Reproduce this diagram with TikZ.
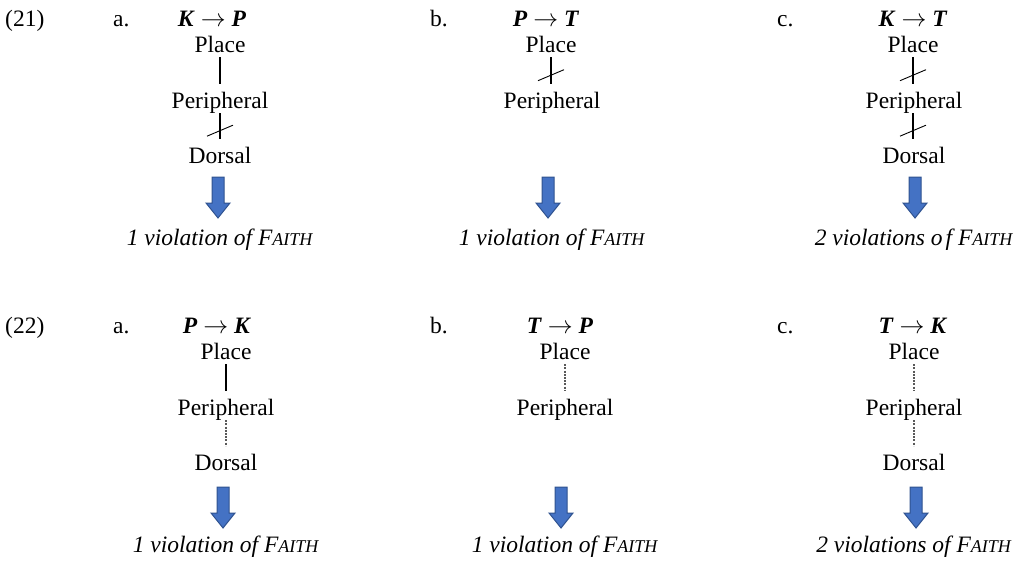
\documentclass[tikz,border=0pt]{standalone}
\usepackage{fontspec}
\setmainfont{Liberation Serif}
\usetikzlibrary{calc}
\definecolor{arrfill}{RGB}{68,114,196}
\definecolor{arrline}{RGB}{47,82,143}
\newcommand\faithsc{F{\fontsize{18}{18}\selectfont AITH}}
\newcommand\bi[1]{\textbf{\textit{#1}}}
\tikzset{
  txt/.style={font=\fontsize{23.5}{26}\selectfont, inner sep=0pt, anchor=base},
  lbl/.style={txt, anchor=base west},
  tree/.style={txt, text height=16pt, text depth=5pt},
  lnk/.style={line width=1.3pt, shorten >=8pt},
  dotlnk/.style={line width=1.1pt, shorten >=8pt, dash pattern=on 2pt off 1.2pt, black!65},
  slashmark/.style={line width=0.9pt},
  blk/.style={fill=arrfill, draw=arrline, line width=1pt, line join=miter},
  downarr/.pic={\path[blk] (-6,0) -- (6,0) -- (6,26) -- (12,26) -- (0,41) -- (-12,26) -- (-6,26) -- cycle;}
}
\begin{document}
\begin{tikzpicture}[x=1pt,y=-1pt]
\useasboundingbox (0,0) rectangle (1022,560);
% ---------------- Row (21) ----------------
\node[lbl] (n21) at (5,26) {(21)};
\node[lbl] (la1) at (113,26) {a.};
\node[lbl] (lb1) at (430,26) {b.};
\node[lbl] (lc1) at (777,26) {c.};
% a
\node[txt] (ha1) at (212,26) {\bi{K} $\rightarrow$ \bi{P}};
\node[tree] (pla1) at (220,52) {Place};
\node[tree] (pea1) at (220,108) {Peripheral};
\node[tree] (doa1) at (220,163) {Dorsal};
\draw[lnk] (pla1.south) -- (pla1.south |- pea1.north);
\draw[lnk] (pea1.south) -- coordinate[pos=0.52] (sa1) (pea1.south |- doa1.north);
\draw[slashmark] (sa1) +(-13,5.5) -- +(13,-5.5);
\pic at (218,177) {downarr};
\node[txt] (va1) at (220,245) {\textit{1 violation of \faithsc}};
% b
\node[txt] (hb1) at (546,26) {\bi{P} $\rightarrow$ \bi{T}};
\node[tree] (plb1) at (551,52) {Place};
\node[tree] (peb1) at (552,108) {Peripheral};
\draw[lnk] (plb1.south) -- coordinate[pos=0.52] (sb1) (plb1.south |- peb1.north);
\draw[slashmark] (sb1) +(-13,5.5) -- +(13,-5.5);
\pic at (548,177) {downarr};
\node[txt] (vb1) at (552,245) {\textit{1 violation of \faithsc}};
% c
\node[txt] (hc1) at (913,26) {\bi{K} $\rightarrow$ \bi{T}};
\node[tree] (plc1) at (913,52) {Place};
\node[tree] (pec1) at (914,108) {Peripheral};
\node[tree] (doc1) at (914,163) {Dorsal};
\draw[lnk] (plc1.south) -- coordinate[pos=0.52] (sc1) (plc1.south |- pec1.north);
\draw[slashmark] (sc1) +(-13,5.5) -- +(13,-5.5);
\draw[lnk] (plc1.south |- pec1.south) -- coordinate[pos=0.52] (sc2) (plc1.south |- doc1.north);
\draw[slashmark] (sc2) +(-13,5.5) -- +(13,-5.5);
\pic at (915,177) {downarr};
\node[txt] (vc1) at (914,245) {\textit{2 violations o\hskip3pt f \faithsc}};
% ---------------- Row (22) ----------------
\node[lbl] (n22) at (5,333) {(22)};
\node[lbl] (la2) at (113,333) {a.};
\node[lbl] (lb2) at (430,333) {b.};
\node[lbl] (lc2) at (777,333) {c.};
% a
\node[txt] (ha2) at (217,333) {\bi{P} $\rightarrow$ \bi{K}};
\node[tree] (pla2) at (226,359) {Place};
\node[tree] (pea2) at (226,415) {Peripheral};
\node[tree] (doa2) at (226,470) {Dorsal};
\draw[lnk] (pla2.south) -- (pla2.south |- pea2.north);
\draw[dotlnk] (pea2.south) -- (pea2.south |- doa2.north);
\pic at (223,487) {downarr};
\node[txt] (va2) at (226,552) {\textit{1 violation of \faithsc}};
% b
\node[txt] (hb2) at (560,333) {\bi{T} $\rightarrow$ \bi{P}};
\node[tree] (plb2) at (565,359) {Place};
\node[tree] (peb2) at (565,415) {Peripheral};
\draw[dotlnk] (plb2.south) -- (plb2.south |- peb2.north);
\pic at (561,487) {downarr};
\node[txt] (vb2) at (565,552) {\textit{1 violation of \faithsc}};
% c
\node[txt] (hc2) at (913,333) {\bi{T} $\rightarrow$ \bi{K}};
\node[tree] (plc2) at (914,359) {Place};
\node[tree] (pec2) at (914,415) {Peripheral};
\node[tree] (doc2) at (914,470) {Dorsal};
\draw[dotlnk] (plc2.south) -- (plc2.south |- pec2.north);
\draw[dotlnk] (pec2.south) -- (pec2.south |- doc2.north);
\pic at (916,487) {downarr};
\node[txt] (vc2) at (914,552) {\textit{2 violations of \faithsc}};
\end{tikzpicture}
\end{document}
